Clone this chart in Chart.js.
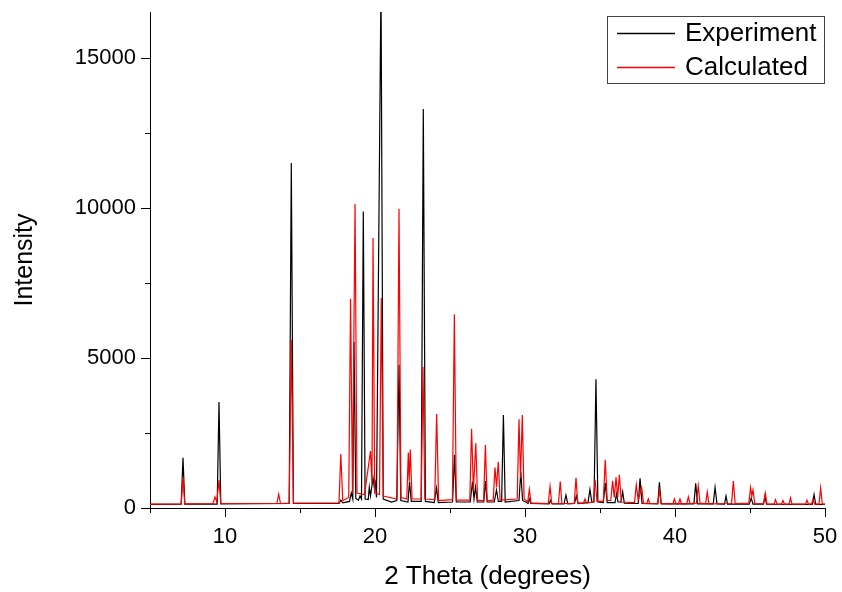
<!DOCTYPE html>
<html>
<head>
<meta charset="utf-8">
<script src="https://cdn.jsdelivr.net/npm/chart.js@4"></script>
<style>
  body { margin: 0; background: #fff; }
  #wrap { width: 842px; height: 592px; }
</style>
</head>
<body>
<div id="wrap"><canvas id="xrd"></canvas></div>
<script>
// 数据（从图上读出的 2θ / 强度）
const seriesNames = ['Experiment', 'Calculated'];
const seriesColors = ['#000000', '#ff0000'];

// Experiment：[2θ, intensity]
const expPoints = [
  [5,120],[7.08,130],[7.2,1670],[7.32,130],[9.48,130],[9.6,3530],[9.72,140],
  [14.28,150],[14.42,11500],[14.56,150],
  [17.6,150],[17.72,260],[17.85,170],[18.3,220],[18.42,500],[18.52,300],[18.6,5530],[18.72,320],
  [18.9,260],[19.0,400],[19.1,300],[19.22,9880],[19.34,300],[19.55,280],[19.62,700],[19.7,400],
  [19.87,1000],[19.95,700],[20.0,950],[20.1,350],[20.4,17500],[20.55,300],[21.1,200],[21.45,250],
  [21.6,4770],[21.72,250],[22.2,200],[22.3,880],[22.42,220],[23.08,220],[23.22,13300],[23.36,220],
  [23.95,180],[24.1,670],[24.22,180],[25.17,200],[25.3,1770],[25.42,200],[26.35,200],[26.5,880],
  [26.6,300],[26.7,700],[26.82,200],[27.25,200],[27.36,900],[27.48,200],[27.95,200],[28.1,600],
  [28.22,220],[28.44,220],[28.56,3100],[28.68,200],[29.6,250],[29.72,1200],[29.84,250],
  [30.2,150],[30.3,300],[30.4,150],[31.6,140],[31.7,250],[31.8,140],[32.6,140],[32.73,430],[32.85,140],
  [33.3,150],[33.42,400],[33.54,150],[34.2,180],[34.33,620],[34.45,200],[34.6,200],[34.73,4290],
  [34.86,200],[35.22,180],[35.35,830],[35.48,180],[36.0,180],[36.1,470],[36.2,200],[36.4,200],
  [36.51,545],[36.62,160],[37.55,150],[37.67,990],[37.8,150],[38.85,140],[38.96,860],[39.08,140],
  [41.26,140],[41.38,820],[41.5,140],[42.55,140],[42.67,690],[42.8,140],[43.3,130],[43.4,400],
  [43.5,130],[44.95,130],[45.08,330],[45.2,130],[45.9,130],[46.0,400],[46.1,130],
  [49.15,120],[49.27,450],[49.38,120],[50,120]
];

// Calculated：[2θ, intensity]
const calcPoints = [
  [5,130],[7.08,140],[7.2,1030],[7.32,140],[9.2,150],[9.33,370],[9.45,200],[9.6,930],[9.72,150],
  [13.46,150],[13.58,460],[13.7,150],[14.28,160],[14.42,5600],[14.56,160],
  [17.6,170],[17.72,1800],[17.85,250],[18.25,350],[18.37,6970],[18.5,500],[18.67,10130],[18.8,500],
  [19.3,450],[19.7,1900],[19.8,800],[19.87,9000],[19.98,500],[20.3,450],[20.42,7000],[20.55,400],
  [21.47,300],[21.6,9970],[21.73,350],[22.12,300],[22.22,1850],[22.28,900],[22.35,1950],[22.47,300],
  [23.08,300],[23.2,4700],[23.32,300],[23.98,280],[24.11,3130],[24.24,250],[25.16,280],[25.29,6460],
  [25.42,260],[26.32,260],[26.44,2640],[26.56,600],[26.72,2160],[26.84,260],[27.24,240],[27.36,2100],
  [27.48,240],[27.88,260],[28.0,1350],[28.1,700],[28.22,1540],[28.34,260],[29.48,300],[29.6,2960],
  [29.7,1000],[29.82,3100],[29.94,300],[30.18,200],[30.29,620],[30.4,170],[31.55,150],[31.67,720],
  [31.78,150],[32.23,150],[32.35,880],[32.46,150],[33.28,150],[33.4,1010],[33.52,160],[33.9,160],
  [34.0,300],[34.1,170],[34.55,200],[34.67,950],[34.8,220],[35.22,220],[35.35,1610],[35.48,250],
  [35.72,250],[35.84,910],[35.95,350],[36.07,1020],[36.18,350],[36.29,1110],[36.42,200],[37.3,180],
  [37.42,770],[37.55,250],[37.78,680],[37.9,160],[38.12,150],[38.22,300],[38.32,150],[38.85,150],
  [38.96,580],[39.08,150],[39.86,140],[39.96,300],[40.06,140],[40.23,140],[40.33,300],[40.43,140],
  [40.78,140],[40.89,370],[41.0,150],[41.43,160],[41.55,740],[41.67,160],[42.04,150],[42.15,530],
  [42.26,140],[43.77,150],[43.89,900],[44.01,150],[44.92,160],[45.04,680],[45.12,400],[45.2,600],
  [45.32,150],[45.9,140],[46.02,500],[46.13,140],[46.6,130],[46.7,280],[46.8,130],[47.1,130],
  [47.2,250],[47.3,130],[47.6,130],[47.7,340],[47.8,130],[48.7,130],[48.8,260],[48.9,130],
  [49.1,130],[49.2,280],[49.3,130],[49.6,130],[49.71,670],[49.82,130],[50,130]
];

// 刻度（主刻度带标签，次刻度只画短线）
const xTickLabels = [10, 20, 30, 40, 50];
const xMinorTicks = [5, 15, 25, 35, 45];
const yTickLabels = [0, 5000, 10000, 15000];
const yMinorTicks = [2500, 7500, 12500];
const xMin = 5, xMax = 50;
const yMin = 0, yMax = 16530;

const FONT = 'Arial, "Liberation Sans", sans-serif';

// 刻度线（朝外）
const tickMarks = {
  id: 'tickMarks',
  afterDraw(chart) {
    const ctx = chart.ctx;
    const xs = chart.scales.x, ys = chart.scales.y;
    const area = chart.chartArea;
    ctx.save();
    ctx.strokeStyle = '#000';
    ctx.lineWidth = 1;
    ctx.beginPath();
    xTickLabels.concat(xMinorTicks).forEach(v => {
      const px = Math.round(xs.getPixelForValue(v)) + 0.5;
      const len = xTickLabels.includes(v) ? 9 : 5;
      ctx.moveTo(px, area.bottom);
      ctx.lineTo(px, area.bottom + len);
    });
    yTickLabels.concat(yMinorTicks).forEach(v => {
      const py = Math.round(ys.getPixelForValue(v)) + 0.5;
      const len = yTickLabels.includes(v) ? 9 : 5;
      ctx.moveTo(area.left, py);
      ctx.lineTo(area.left - len, py);
    });
    ctx.stroke();
    ctx.restore();
  }
};

// 图例（带边框，放在右上角）
const boxLegend = {
  id: 'boxLegend',
  afterDraw(chart) {
    const ctx = chart.ctx;
    const area = chart.chartArea;
    const right = area.right - 1, top = 16;
    const w = 217, h = 67;
    const left = right - w;
    ctx.save();
    ctx.fillStyle = '#fff';
    ctx.fillRect(left, top, w, h);
    ctx.strokeStyle = '#444';
    ctx.lineWidth = 1;
    ctx.strokeRect(left + 0.5, top + 0.5, w, h);
    ctx.font = '26px ' + FONT;
    ctx.textBaseline = 'middle';
    ctx.fillStyle = '#000';
    seriesNames.forEach((name, i) => {
      const y = top + 17 + i * 34;
      ctx.strokeStyle = seriesColors[i];
      ctx.lineWidth = 1.3;
      ctx.beginPath();
      ctx.moveTo(left + 10, y + 0.5);
      ctx.lineTo(left + 68, y + 0.5);
      ctx.stroke();
      ctx.fillText(name, left + 78, y + 1);
    });
    ctx.restore();
  }
};

new Chart(document.getElementById('xrd'), {
  type: 'line',
  data: {
    datasets: [
      { label: seriesNames[0], data: expPoints, borderColor: seriesColors[0], borderWidth: 1.2, order: 1 },
      { label: seriesNames[1], data: calcPoints, borderColor: seriesColors[1], borderWidth: 1.2, order: 0 }
    ]
  },
  options: {
    responsive: true,
    maintainAspectRatio: false,
    animation: false,
    layout: { padding: { top: 12, right: 17, left: 0, bottom: 0 } },
    elements: { point: { radius: 0 }, line: { tension: 0 } },
    plugins: { legend: { display: false }, tooltip: { enabled: false } },
    scales: {
      x: {
        type: 'linear', min: xMin, max: xMax,
        afterBuildTicks: s => { s.ticks = xTickLabels.map(v => ({ value: v })); },
        afterFit: s => { s.height = 84; s.paddingLeft = 0; s.paddingRight = 0; },
        grid: { display: false, drawTicks: false },
        border: { display: true, color: '#000', width: 1 },
        ticks: {
          padding: 16, color: '#000', maxRotation: 0, autoSkip: false,
          font: { family: FONT, size: 22 },
          callback: v => String(v)
        },
        title: { display: true, text: '2 Theta (degrees)', color: '#000', padding: { top: 0, bottom: 0 },
                 font: { family: FONT, size: 26 } }
      },
      y: {
        type: 'linear', min: yMin, max: yMax,
        afterBuildTicks: s => { s.ticks = yTickLabels.map(v => ({ value: v })); },
        afterFit: s => { s.width = 150; s.paddingTop = 0; s.paddingBottom = 0; },
        grid: { display: false, drawTicks: false },
        border: { display: true, color: '#000', width: 1 },
        ticks: {
          padding: 14, color: '#000', autoSkip: false,
          font: { family: FONT, size: 22 },
          callback: v => String(v)
        },
        title: { display: true, text: 'Intensity', color: '#000', padding: { top: 10, bottom: 0 },
                 font: { family: FONT, size: 25 } }
      }
    }
  },
  plugins: [tickMarks, boxLegend]
});
</script>
</body>
</html>
